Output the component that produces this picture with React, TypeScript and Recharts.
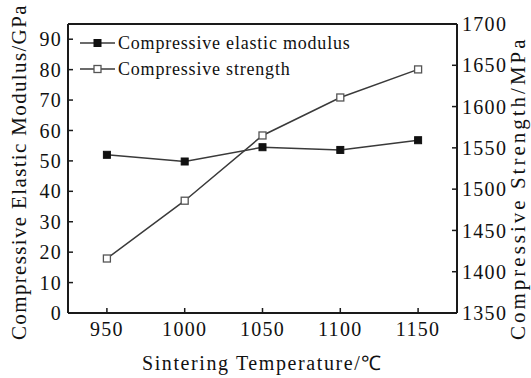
import { LineChart, Line, XAxis, YAxis, Legend, ReferenceLine } from 'recharts';

const temperatures = [950, 1000, 1050, 1100, 1150];
const elasticModulus = [52, 49.8, 54.5, 53.6, 56.8];
const compressiveStrength = [1416, 1486, 1565, 1611, 1645];

const xTicks = [950, 1000, 1050, 1100, 1150];
const xMinorTicks = [975, 1025, 1075, 1125];
const leftTicks = [0, 10, 20, 30, 40, 50, 60, 70, 80, 90];
const leftMinorTicks = [5, 15, 25, 35, 45, 55, 65, 75, 85];
const rightTicks = [1350, 1400, 1450, 1500, 1550, 1600, 1650, 1700];
const rightMinorTicks = [1375, 1425, 1475, 1525, 1575, 1625, 1675];

const seriesNames = ['Compressive elastic modulus', 'Compressive strength'];

const FONT = "'Liberation Serif', 'Times New Roman', serif";
const AXIS_COLOR = '#1a1a1a';
const LINE_COLOR = '#3a3a3a';

const chartData = temperatures.map((t, i) => ({
  temperature: t,
  modulus: elasticModulus[i],
  strength: compressiveStrength[i],
}));

const tickStyle = { fill: '#111', fontSize: 20, fontFamily: FONT, letterSpacing: 1.3 };

const FilledSquare = (props: any) => {
  const { cx, cy } = props;
  if (cx == null || cy == null) return null;
  return <rect x={cx - 3.5} y={cy - 3.5} width={7} height={7} fill="#111" stroke="#111" />;
};

const OpenSquare = (props: any) => {
  const { cx, cy } = props;
  if (cx == null || cy == null) return null;
  return <rect x={cx - 3.5} y={cy - 3.5} width={7} height={7} fill="#fff" stroke="#555" strokeWidth={1.3} />;
};

const renderLegend = () => (
  <div style={{ fontFamily: FONT, fontSize: 18, letterSpacing: 0.8, lineHeight: '26px', color: '#111' }}>
    {seriesNames.map((name, i) => (
      <div key={name} style={{ display: 'flex', alignItems: 'center', whiteSpace: 'nowrap' }}>
        <svg width={35} height={12} style={{ display: 'block' }}>
          <line x1={0} y1={6} x2={35} y2={6} stroke={LINE_COLOR} strokeWidth={1.5} />
          {i === 0 ? (
            <rect x={14} y={2.5} width={7} height={7} fill="#111" stroke="#111" />
          ) : (
            <rect x={14} y={2.5} width={7} height={7} fill="#fff" stroke="#555" strokeWidth={1.3} />
          )}
        </svg>
        <span style={{ marginLeft: 3 }}>{name}</span>
      </div>
    ))}
  </div>
);

// rotated axis title, anchored at its lower end
const verticalTitle = (text: string, dx: number, bottom: number, spacing: number) => (props: any) => {
  const { viewBox } = props;
  const x = viewBox.x + dx;
  const y = bottom;
  return (
    <text
      x={x}
      y={y}
      transform={`rotate(-90 ${x} ${y})`}
      textAnchor="start"
      dominantBaseline="central"
      fill="#111"
      fontSize={21}
      fontFamily={FONT}
      letterSpacing={spacing}
    >
      {text}
    </text>
  );
};

export default function App() {
  return (
    <div style={{ position: 'absolute', left: 0, top: 0, width: 531, height: 378, background: '#fff' }}>
      <LineChart width={531} height={378} data={chartData} margin={{ top: 24, right: 0, bottom: 0, left: 8 }}>
        <XAxis
          xAxisId="minor"
          type="number"
          dataKey="temperature"
          domain={[925, 1175]}
          allowDataOverflow
          ticks={xMinorTicks}
          height={0}
          tick={false}
          tickSize={-3}
          axisLine={false}
          tickLine={{ stroke: AXIS_COLOR, strokeWidth: 1.5 }}
        />
        <XAxis
          type="number"
          dataKey="temperature"
          domain={[925, 1175]}
          allowDataOverflow
          ticks={xTicks}
          height={65}
          tick={tickStyle}
          tickSize={-5}
          tickMargin={14}
          axisLine={{ stroke: AXIS_COLOR, strokeWidth: 2 }}
          tickLine={{ stroke: AXIS_COLOR, strokeWidth: 1.5 }}
          label={{
            value: 'Sintering Temperature/℃',
            position: 'insideBottom',
            offset: 8,
            style: { fill: '#111', fontSize: 20, fontFamily: FONT, letterSpacing: 1.6 },
          }}
        />
        <YAxis
          yAxisId="leftMinor"
          orientation="left"
          type="number"
          domain={[0, 95]}
          allowDataOverflow
          ticks={leftMinorTicks}
          width={0}
          tick={false}
          tickSize={-3}
          axisLine={false}
          tickLine={{ stroke: AXIS_COLOR, strokeWidth: 1.5 }}
        />
        <YAxis
          yAxisId="left"
          orientation="left"
          type="number"
          domain={[0, 95]}
          allowDataOverflow
          ticks={leftTicks}
          width={60}
          tick={tickStyle}
          tickSize={-5}
          tickMargin={11}
          axisLine={{ stroke: AXIS_COLOR, strokeWidth: 2 }}
          tickLine={{ stroke: AXIS_COLOR, strokeWidth: 1.5 }}
          label={{ content: verticalTitle('Compressive Elastic Modulus/GPa', 11, 340, 1.35) }}
        />
        <YAxis
          yAxisId="rightMinor"
          orientation="right"
          type="number"
          domain={[1350, 1700]}
          allowDataOverflow
          ticks={rightMinorTicks}
          width={0}
          tick={false}
          tickSize={-3}
          axisLine={false}
          tickLine={{ stroke: AXIS_COLOR, strokeWidth: 1.5 }}
        />
        <YAxis
          yAxisId="right"
          orientation="right"
          type="number"
          domain={[1350, 1700]}
          allowDataOverflow
          ticks={rightTicks}
          width={74}
          tick={tickStyle}
          tickSize={-5}
          tickMargin={10}
          axisLine={{ stroke: AXIS_COLOR, strokeWidth: 2 }}
          tickLine={{ stroke: AXIS_COLOR, strokeWidth: 1.5 }}
          label={{ content: verticalTitle('Compressive Strength/MPa', 61, 340, 3) }}
        />
        <ReferenceLine yAxisId="left" y={95} stroke={AXIS_COLOR} strokeWidth={2} />
        <Legend
          layout="vertical"
          align="center"
          verticalAlign="middle"
          content={renderLegend}
          wrapperStyle={{ left: 80, top: 30, width: 'auto' }}
        />
        <Line
          yAxisId="left"
          type="linear"
          dataKey="modulus"
          name={seriesNames[0]}
          stroke={LINE_COLOR}
          strokeWidth={1.5}
          dot={<FilledSquare />}
          activeDot={false}
          isAnimationActive={false}
        />
        <Line
          yAxisId="right"
          type="linear"
          dataKey="strength"
          name={seriesNames[1]}
          stroke={LINE_COLOR}
          strokeWidth={1.5}
          dot={<OpenSquare />}
          activeDot={false}
          isAnimationActive={false}
        />
      </LineChart>
    </div>
  );
}
